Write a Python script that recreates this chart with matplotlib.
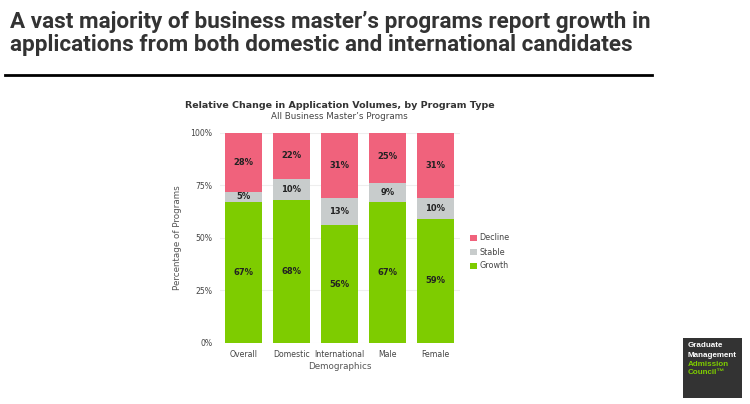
import matplotlib
matplotlib.use("Agg")
import matplotlib.pyplot as plt
import numpy as np
from matplotlib.patches import Rectangle
from matplotlib.lines import Line2D

categories = ["Overall", "Domestic", "International", "Male", "Female"]
growth = [67, 68, 56, 67, 59]
stable = [5, 10, 13, 9, 10]
decline = [28, 22, 31, 25, 31]
yticks = [0, 25, 50, 75, 100]
ytick_labels = ["0%", "25%", "50%", "75%", "100%"]

c_growth = "#7ECC00"
c_stable = "#C8CCCC"
c_decline = "#F0627C"

fig = plt.figure(figsize=(7.5, 4.04), dpi=100)
fig.patch.set_facecolor("white")

# Headline (fit first line to reference width)
head_family = ["Roboto", "DejaVu Sans"]
h1 = fig.text(0.014, 0.945, "A vast majority of business master\u2019s programs report growth in",
              fontsize=16, fontweight="bold", color="#333333", family=head_family,
              va="center", ha="left")
h2 = fig.text(0.014, 0.888, "applications from both domestic and international candidates",
              fontsize=16, fontweight="bold", color="#333333", family=head_family,
              va="center", ha="left")
fig.canvas.draw()
r = fig.canvas.get_renderer()
wpx = h1.get_window_extent(renderer=r).width
fs = 16 * 640.0 / wpx
h1.set_fontsize(fs)
h2.set_fontsize(fs)
fig.add_artist(Line2D([0.007, 0.869], [0.814, 0.814], transform=fig.transFigure, color="black", lw=2))

ax = fig.add_axes([0.2927, 0.151, 0.32, 0.5205])
x = np.arange(len(categories))
w = 0.77
g = np.array(growth); s = np.array(stable); d = np.array(decline)
ax.bar(x, g, w, color=c_growth, label="Growth", zorder=2)
ax.bar(x, s, w, bottom=g, color=c_stable, label="Stable", zorder=2)
ax.bar(x, d, w, bottom=g + s, color=c_decline, label="Decline", zorder=2)

for i in range(len(categories)):
    for val, bot in [(g[i], 0), (s[i], g[i]), (d[i], g[i] + s[i])]:
        ax.text(x[i], bot + val / 2, f"{val}%", ha="center", va="center",
                fontsize=6, fontweight="bold", color="#222222", zorder=3)

ax.set_xlim(-0.5, 4.5)
ax.set_ylim(0, 100)
ax.set_yticks(yticks)
ax.set_yticklabels(ytick_labels)
ax.set_xticks(x)
ax.set_xticklabels(categories)
ax.yaxis.grid(True, color="#EEEEEE", lw=0.8, zorder=0)
ax.set_axisbelow(True)
for sp in ax.spines.values():
    sp.set_visible(False)
ax.tick_params(axis="both", length=0, labelsize=5.6, labelcolor="#444444", pad=5)
ax.set_ylabel("Percentage of Programs", fontsize=6.3, color="#555555", labelpad=6)
ax.set_xlabel("Demographics", fontsize=6.3, color="#555555", labelpad=2)

fig.text(0.453, 0.739, "Relative Change in Application Volumes, by Program Type",
         fontsize=6.8, fontweight="bold", color="#333333", ha="center", va="center")
fig.text(0.453, 0.711, "All Business Master\u2019s Programs",
         fontsize=6.3, color="#444444", ha="center", va="center")

# Legend
leg_items = [("Decline", c_decline, 0.411), ("Stable", c_stable, 0.376), ("Growth", c_growth, 0.342)]
for lab, col, yy in leg_items:
    fig.add_artist(Rectangle((0.627, yy - 0.008), 0.0085, 0.016, transform=fig.transFigure,
                             facecolor=col, edgecolor="none"))
    fig.text(0.639, yy, lab, fontsize=5.8, color="#444444", va="center", ha="left")

# Logo
fig.add_artist(Rectangle((0.910, 0.0141), 0.0787, 0.1485, transform=fig.transFigure,
                         facecolor="#333333", edgecolor="none"))
logo_txts = []
for txt, col, yy in [("Graduate", "white", 0.1436), ("Management", "white", 0.1205),
                     ("Admission", "#7ECC00", 0.0983), ("Council\u2122", "#7ECC00", 0.0775)]:
    t = fig.text(0.9165, yy, txt, fontsize=6, fontweight="bold", color=col, va="center", ha="left",
                 family=["Liberation Sans", "DejaVu Sans"])
    logo_txts.append(t)
fig.canvas.draw()
mw = logo_txts[1].get_window_extent(renderer=fig.canvas.get_renderer()).width
lfs = 6 * 50.0 / mw
for t in logo_txts:
    t.set_fontsize(lfs)

fig.savefig("out.png", dpi=100)
